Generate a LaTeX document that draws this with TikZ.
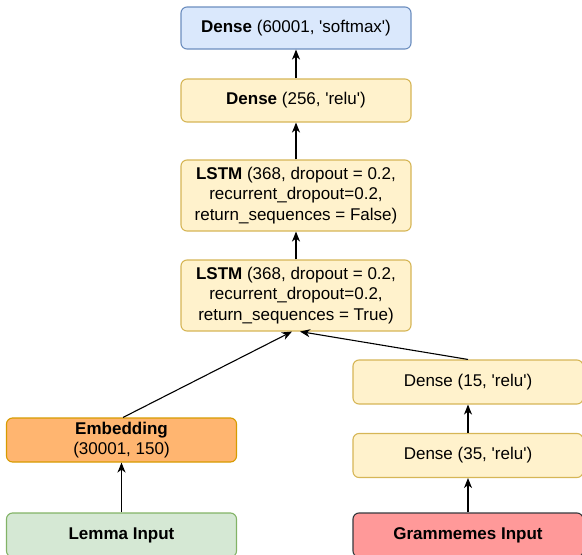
\documentclass[tikz,border=0pt]{standalone}
\usepackage{fontspec}
\setmainfont{Liberation Sans}
\usetikzlibrary{arrows.meta}
\definecolor{blueF}{HTML}{DAE8FC}
\definecolor{blueD}{HTML}{6C8EBF}
\definecolor{yelF}{HTML}{FFF2CC}
\definecolor{yelD}{HTML}{D6B656}
\definecolor{orgF}{HTML}{FFB570}
\definecolor{orgD}{HTML}{D79B00}
\definecolor{grnF}{HTML}{D5E8D4}
\definecolor{grnD}{HTML}{82B366}
\definecolor{redF}{HTML}{FF9999}
\definecolor{redD}{HTML}{36393D}
\newcommand{\sq}{\textquotesingle}
\begin{document}
\begin{tikzpicture}[x=1pt, y=-1pt, line join=round, >={Stealth[length=10pt,width=8pt,inset=3pt]},
	font=\fontsize{17}{20.5}\selectfont,
	layer/.style={draw, line width=1.1pt, rounded corners=6pt, minimum width=230pt, minimum height=44pt, align=center, inner sep=0pt},
	dense/.style={layer, fill=yelF, draw=yelD},
	lstm/.style={dense, minimum height=71pt},
	arr/.style={->, line width=1.1pt}]
	\clip (0,0) rectangle (582,555);
	% main branch
	\node[layer, fill=blueF, draw=blueD, minimum height=42pt] (out) at (296,28) {\textbf{Dense} (60001, \sq softmax\sq)};
	\node[dense, minimum height=43pt] (d256) at (296,100.5) {\textbf{Dense} (256, \sq relu\sq)};
	\node[lstm] (lstmA) at (296,195.5) {\textbf{LSTM} (368, dropout = 0.2,\\ recurrent\_dropout=0.2,\\ return\_sequences = False)};
	\node[lstm] (lstmB) at (296,295.5) {\textbf{LSTM} (368, dropout = 0.2,\\ recurrent\_dropout=0.2,\\ return\_sequences = True)};
	% lemma branch
	\node[layer, fill=orgF, draw=orgD] (emb) at (121.5,440) {\textbf{Embedding}\\ (30001, 150)};
	\node[layer, fill=grnF, draw=grnD] (lemma) at (121.5,535) {\textbf{Lemma Input}};
	% grammemes branch
	\node[dense] (d15) at (468,382) {Dense (15, \sq relu\sq)};
	\node[dense] (d35) at (468,455.5) {Dense (35, \sq relu\sq)};
	\node[layer, fill=redF, draw=redD] (gram) at (468,535) {\textbf{Grammemes Input}};

	\draw[arr] (d256) -- (out);
	\draw[arr] (lstmA) -- (d256);
	\draw[arr] (lstmB) -- (lstmA);
	\draw[arr] ([xshift=1.5pt]emb.north) -- ([xshift=-4pt]lstmB.south);
	\draw[arr] (d15.north) -- ([xshift=4pt]lstmB.south);
	\draw[arr] (lemma) -- (emb);
	\draw[arr] (gram) -- (d35);
	\draw[arr] (d35) -- (d15);
\end{tikzpicture}
\end{document}
